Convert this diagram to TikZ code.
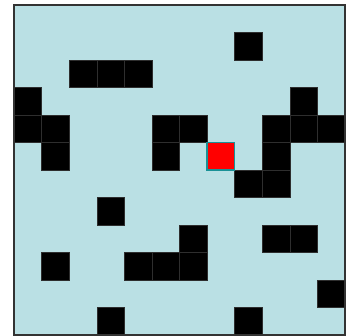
\documentclass[tikz,border=0pt]{standalone}
\definecolor{bgblue}{RGB}{186,224,228}
\definecolor{goalteal}{RGB}{25,145,150}
\begin{document}
\begin{tikzpicture}[x=1pt,y=-1pt]
\useasboundingbox (0,0) rectangle (354,336);
\fill[white] (0,0) rectangle (354,336);
\def\cw{27.58}
\def\ch{27.5}
\tikzset{wall/.style={fill=black,draw=black!82,line width=0.4pt},
         goal/.style={fill=red,draw=goalteal,line width=1.6pt},
         frame/.style={draw=black!80,line width=1.2pt}}
\fill[bgblue] (14,5) rectangle (345,335);
\foreach \c/\r in {8/1,2/2,3/2,4/2,0/3,10/3,0/4,1/4,5/4,6/4,9/4,10/4,11/4,1/5,5/5,9/5,8/6,9/6,3/7,6/8,9/8,10/8,1/9,4/9,5/9,6/9,11/10,3/11,8/11}
  \draw[wall] ({14+\c*\cw},{5+\r*\ch}) rectangle ++(\cw,\ch);
\draw[goal] ({14+7*\cw},{5+5*\ch}) rectangle ++(\cw,\ch);
\draw[frame] (14,5) rectangle (345,335);
\end{tikzpicture}
\end{document}
